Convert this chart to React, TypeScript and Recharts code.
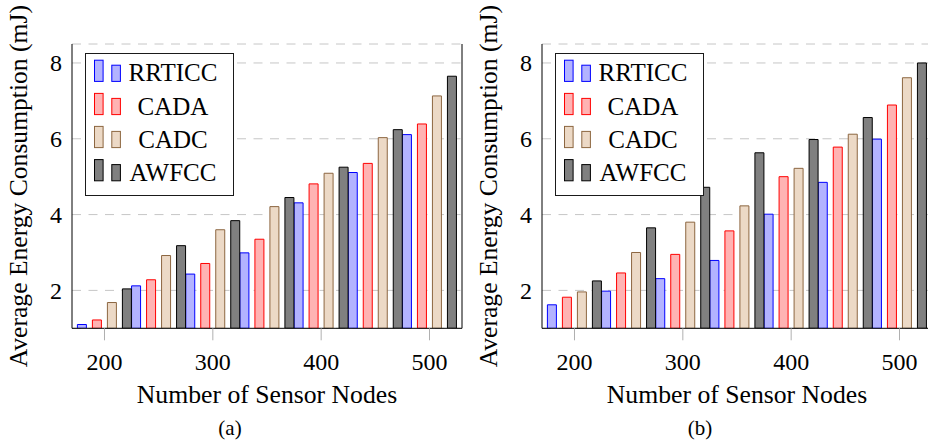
import React from 'react';
import { BarChart, Bar, XAxis, YAxis, CartesianGrid, Legend, Label } from 'recharts';

// ---- data ----
const categories = [200, 250, 300, 350, 400, 450, 500];
const yTicks = [2, 4, 6, 8];

const rrticcA = [1.1, 2.12, 2.43, 2.99, 4.31, 5.11, 6.11];
const cadaA = [1.22, 2.28, 2.71, 3.35, 4.81, 5.35, 6.39];
const cadcA = [1.68, 2.92, 3.6, 4.21, 5.09, 6.03, 7.13];
const awfccA = [2.04, 3.18, 3.84, 4.45, 5.25, 6.24, 7.65];

const rrticcB = [1.62, 1.98, 2.31, 2.79, 4.01, 4.85, 5.99];
const cadaB = [1.82, 2.46, 2.95, 3.57, 5.0, 5.78, 6.89];
const cadcB = [1.96, 3.0, 3.8, 4.23, 5.22, 6.12, 7.61];
const awfccB = [2.25, 3.65, 4.72, 5.63, 5.98, 6.56, 8.0];

const seriesNames = ['RRTICC', 'CADA', 'CADC', 'AWFCC'];
const seriesFills = ['#b3b3ff', '#ffb3b3', '#ecd9c6', '#808080'];
const seriesStrokes = ['#0000ff', '#ff0000', '#8c6640', '#000000'];

const xLabel = 'Number of Sensor Nodes';
const yLabel = 'Average Energy Consumption (mJ)';

// ---- layout ----
const FONT = "'Liberation Serif', 'Times New Roman', Times, serif";
const W = 470;
const H = 445;
const MARGIN = { top: 44, right: 8, bottom: 56.7, left: 32 };
const YAXIS_W = 40;
const XAXIS_H = 60;
const PLOT_L = MARGIN.left + YAXIS_W;
const PLOT_R = W - MARGIN.right;
const PLOT_T = MARGIN.top;
const PLOT_B = H - MARGIN.bottom - XAXIS_H;
const TICK_GRAY = '#b0b0b0';
const GRID_GRAY = '#c6c6c6';

const serif = (size: number) => ({ fontFamily: FONT, fontSize: size });

function buildRows(vals: number[][]) {
  return categories.map((n, i) => {
    const row: any = { n };
    seriesNames.forEach((name, s) => {
      row[name] = vals[s][i];
    });
    return row;
  });
}

const XTick = (props: any) => (
  <text x={props.x} y={props.y + 17} textAnchor="middle" fill="#000" style={serif(24)}>
    {props.payload.value}
  </text>
);

const YTick = (props: any) => (
  <text x={props.x} y={props.y + 8.5} textAnchor="end" fill="#000" style={serif(24)}>
    {props.payload.value}
  </text>
);

const LegendBox = () => {
  const w = 149;
  const h = 143;
  const baselines = [28.4, 61.6, 94.6, 127.8];
  return (
    <svg width={w} height={h} style={{ display: 'block' }}>
      <rect x={0.5} y={0.5} width={w - 1} height={h - 1} fill="#fff" stroke="#1a1a1a" strokeWidth={1} />
      {seriesNames.map((name, i) => (
        <g key={name}>
          <rect x={9.5} y={baselines[i] - 21.2} width={8.6} height={21.2} fill={seriesFills[i]} stroke={seriesStrokes[i]} strokeWidth={1} />
          <rect x={26.8} y={baselines[i] - 16.2} width={8.6} height={16.2} fill={seriesFills[i]} stroke={seriesStrokes[i]} strokeWidth={1} />
          <text x={88} y={baselines[i]} textAnchor="middle" fill="#000" style={serif(25)}>
            {name}
          </text>
        </g>
      ))}
    </svg>
  );
};

const Panel = ({ vals, caption }: { vals: number[][]; caption: string }) => {
  const data = buildRows(vals);
  const cy = (PLOT_T + PLOT_B) / 2;
  return (
    <BarChart width={W} height={H} data={data} margin={MARGIN} barGap={6} barCategoryGap={0} style={{ fontFamily: FONT }}>
      <CartesianGrid vertical={false} stroke={GRID_GRAY} strokeDasharray="9 7.5" />
      <XAxis
        dataKey="n"
        type="category"
        interval={1}
        height={XAXIS_H}
        padding={{ left: 5.4, right: 5.4 }}
        tickSize={12}
        tickMargin={12.7}
        tick={<XTick />}
        tickLine={{ stroke: TICK_GRAY }}
        axisLine={{ stroke: '#000', strokeWidth: 1 }}
      >
        <Label
          content={() => (
            <g>
              <text x={(PLOT_L + PLOT_R) / 2} y={403} textAnchor="middle" fill="#000" style={serif(25.7)}>
                {xLabel}
              </text>
              <text x={230} y={434.5} textAnchor="middle" fill="#000" style={serif(21)}>
                {caption}
              </text>
            </g>
          )}
        />
      </XAxis>
      <XAxis
        xAxisId="top"
        orientation="top"
        dataKey="n"
        type="category"
        interval={1}
        height={0}
        padding={{ left: 5.4, right: 5.4 }}
        tickSize={12}
        tick={false}
        tickLine={{ stroke: TICK_GRAY }}
        axisLine={{ stroke: '#000', strokeWidth: 1 }}
      />
      <YAxis
        domain={[1, 8.5]}
        ticks={yTicks}
        type="number"
        width={YAXIS_W}
        tickSize={0}
        tickMargin={10}
        tickLine={false}
        tick={<YTick />}
        axisLine={{ stroke: '#000', strokeWidth: 1 }}
        allowDataOverflow
      >
        <Label
          content={() => (
            <text
              x={27}
              y={cy}
              transform={`rotate(-90, 27, ${cy})`}
              textAnchor="middle"
              fill="#000"
              style={serif(25.6)}
            >
              {yLabel}
            </text>
          )}
        />
      </YAxis>
      <YAxis
        yAxisId="leftInner"
        orientation="left"
        mirror
        domain={[1, 8.5]}
        ticks={yTicks}
        type="number"
        tickSize={11}
        tick={false}
        tickLine={{ stroke: TICK_GRAY }}
        axisLine={false}
        allowDataOverflow
      />
      <YAxis
        yAxisId="rightInner"
        orientation="right"
        mirror
        domain={[1, 8.5]}
        ticks={yTicks}
        type="number"
        tickSize={11}
        tick={false}
        tickLine={{ stroke: TICK_GRAY }}
        axisLine={{ stroke: '#000', strokeWidth: 1 }}
        allowDataOverflow
      />
      {seriesNames.map((name, i) => (
        <Bar
          key={name}
          dataKey={name}
          barSize={9}
          fill={seriesFills[i]}
          stroke={seriesStrokes[i]}
          strokeWidth={1}
          isAnimationActive={false}
        />
      ))}
      <Legend
        layout="vertical"
        align="center"
        verticalAlign="middle"
        wrapperStyle={{ left: 84.7, top: 53.3, width: 149, height: 143 }}
        content={() => <LegendBox />}
      />
    </BarChart>
  );
};

export default function App() {
  return (
    <div style={{ position: 'fixed', left: 0, top: 0, width: 928, height: 445, overflow: 'hidden', background: '#fff' }}>
      <div style={{ position: 'absolute', left: 0, top: 0 }}>
        <Panel vals={[rrticcA, cadaA, cadcA, awfccA]} caption="(a)" />
      </div>
      <div style={{ position: 'absolute', left: 470, top: 0 }}>
        <Panel vals={[rrticcB, cadaB, cadcB, awfccB]} caption="(b)" />
      </div>
    </div>
  );
}
